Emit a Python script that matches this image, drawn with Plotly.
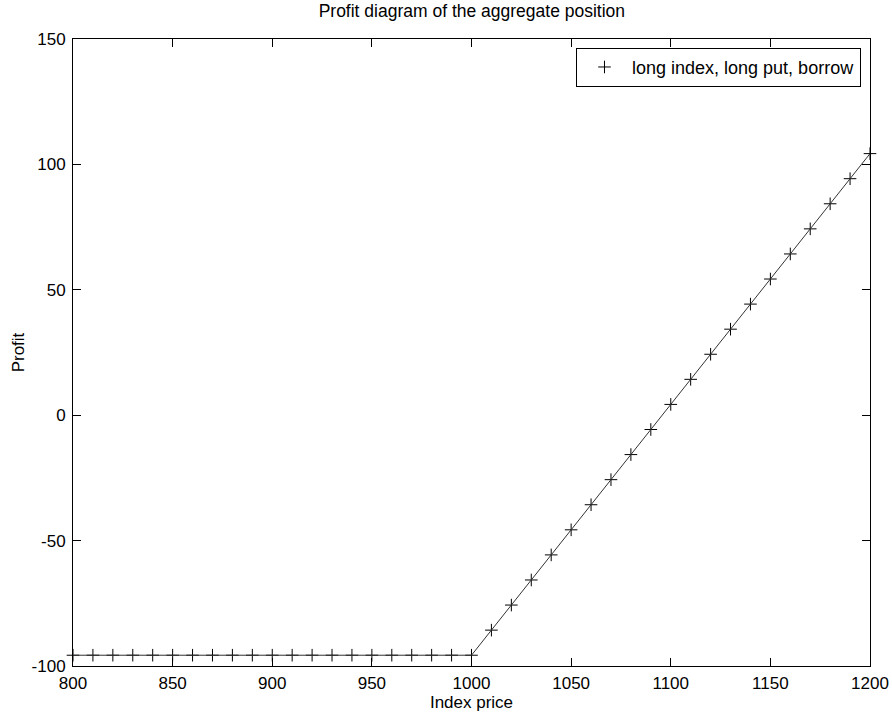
import plotly.graph_objects as go

index_price = [800, 810, 820, 830, 840, 850, 860, 870, 880, 890, 900, 910, 920, 930, 940, 950,
               960, 970, 980, 990, 1000, 1010, 1020, 1030, 1040, 1050, 1060, 1070, 1080, 1090,
               1100, 1110, 1120, 1130, 1140, 1150, 1160, 1170, 1180, 1190, 1200]
profit = [-95.7, -95.7, -95.7, -95.7, -95.7, -95.7, -95.7, -95.7, -95.7, -95.7, -95.7,
          -95.7, -95.7, -95.7, -95.7, -95.7, -95.7, -95.7, -95.7, -95.7, -95.7,
          -85.7, -75.7, -65.7, -55.7, -45.7, -35.7, -25.7, -15.7, -5.7,
          4.3, 14.3, 24.3, 34.3, 44.3, 54.3, 64.3, 74.3, 84.3, 94.3, 104.3]
x_ticks = [800, 850, 900, 950, 1000, 1050, 1100, 1150, 1200]
y_ticks = [-100, -50, 0, 50, 100, 150]
y_tick_labels = ["-100", "-50", "0", "50", "100", "150"]

FONT = "Liberation Sans, Arial, sans-serif"
FS = 17

fig = go.Figure()
fig.add_trace(go.Scatter(
    x=index_price, y=profit, mode="markers",
    name="long index, long put, borrow",
    marker=dict(symbol="cross-thin", size=9, color="black",
                line=dict(color="black", width=1)),
    cliponaxis=False,
))
fig.add_trace(go.Scatter(
    x=index_price, y=profit, mode="lines", showlegend=False,
    line=dict(color="#333333", width=1),
))

axis_common = dict(
    showline=True, linecolor="black", linewidth=1, mirror="ticks",
    ticks="inside", ticklen=8, tickcolor="black", tickwidth=1,
    showgrid=False, zeroline=False, automargin=False,
    tickfont=dict(family=FONT, size=FS, color="black"),
)

fig.update_layout(
    width=892, height=716,
    margin=dict(l=73, r=22, t=39, b=50),
    paper_bgcolor="white", plot_bgcolor="white",
    title=dict(text="Profit diagram of the aggregate position",
               x=0.529, xanchor="center", y=0.993, yanchor="top",
               font=dict(family=FONT, size=FS + 0.5, color="black"),
               automargin=False),
    xaxis=dict(range=[800, 1200], tickvals=x_ticks, ticklabelstandoff=2,
               title=dict(text="Index price", standoff=2,
                          font=dict(family=FONT, size=FS, color="black")),
               **axis_common),
    yaxis=dict(range=[-100, 150], tickvals=y_ticks, ticktext=y_tick_labels,
               ticklabelstandoff=3,
               title=dict(text="Profit", standoff=2,
                          font=dict(family=FONT, size=FS, color="black")),
               **axis_common),
    legend=dict(x=0.9887, y=0.986, xanchor="right", yanchor="top",
                bordercolor="black", borderwidth=1, bgcolor="white",
                font=dict(family=FONT, size=18, color="black"),
                itemwidth=45, tracegroupgap=0),
    showlegend=True,
)

fig.write_html("out.html")
